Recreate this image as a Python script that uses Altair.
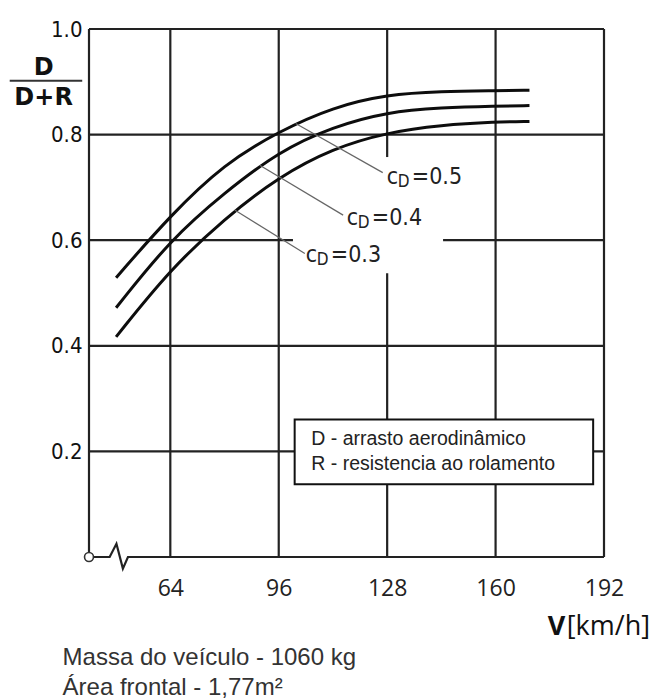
import altair as alt
import pandas as pd

# ---- data ----
speed_kmh = [48, 64, 80, 96, 112, 128, 144, 160, 170]
ratio_cd05 = [0.529, 0.647, 0.745, 0.806, 0.852, 0.876, 0.882, 0.883, 0.884]
ratio_cd04 = [0.472, 0.601, 0.690, 0.768, 0.815, 0.843, 0.851, 0.854, 0.855]
ratio_cd03 = [0.417, 0.545, 0.641, 0.720, 0.774, 0.804, 0.818, 0.824, 0.825]
cd_values = ["0.5", "0.4", "0.3"]

x_ticks = [64, 96, 128, 160, 192]
y_ticks = [0.2, 0.4, 0.6, 0.8, 1.0]

# gridline segments (value, start, end)
h_grid_y = [1.0, 0.8, 0.6, 0.6, 0.4, 0.2]
h_grid_x1 = [40, 40, 40, 144.5, 40, 40]
h_grid_x2 = [192, 192, 100.2, 192, 192, 192]
v_grid_x = [40, 64, 96, 128, 128, 160, 192]
v_grid_y1 = [0, 0, 0, 0, 0.7575, 0, 0]
v_grid_y2 = [1, 1, 1, 0.5376, 1, 1, 1]

# broken x axis near origin
axis_x = [40, 46.1, 48.1, 50.0, 51.5, 192]
axis_y = [0, 0, 0.025, -0.022, 0, 0]

# curve label annotations (leader start -> end, label anchor)
lead_x1 = [101.0, 90.4, 83.0]
lead_y1 = [0.821, 0.742, 0.657]
lead_x2 = [126.7, 115.0, 103.7]
lead_y2 = [0.728, 0.6475, 0.575]
lab_x = [127.9, 116.1, 104.0]
lab_y = [0.7195, 0.642, 0.5717]

legend_lines = ["D - arrasto aerodinâmico", "R - resistencia ao rolamento"]
legend_line_y = [0.2244, 0.177]
legend_box = dict(x=100.7, x2=188.8, y=0.2604, y2=0.1378)

footer_lines = ["Massa do veículo - 1060 kg", "Área frontal - 1,77m²"]
footer_y = [-0.192, -0.2488]

# ---- scales / axes ----
xs = alt.Scale(domain=[40, 192], nice=False, zero=False)
ys = alt.Scale(domain=[0, 1], nice=False, zero=False)
X_AX = alt.Axis(values=x_ticks, title=None, domain=False, ticks=False, grid=False,
                labelFont="Open Sans", labelFontSize=23, labelColor="#222",
                labelPadding=20, labelFlush=False)
Y_AX = alt.Axis(values=y_ticks, title=None, domain=False, ticks=False, grid=False,
                format=".1f", labelFont="DejaVu Sans Condensed", labelFontSize=22,
                labelColor="#111", labelPadding=7)


def X(f):
    return alt.X(f, type="quantitative", scale=xs, axis=X_AX)


def Y(f):
    return alt.Y(f, type="quantitative", scale=ys, axis=Y_AX)


GRID = "#222222"

hgrid = pd.DataFrame({"y": h_grid_y, "x1": h_grid_x1, "x2": h_grid_x2})
vgrid = pd.DataFrame({"x": v_grid_x, "y1": v_grid_y1, "y2": v_grid_y2})

curves = pd.DataFrame({
    "v": speed_kmh * 3,
    "r": ratio_cd05 + ratio_cd04 + ratio_cd03,
    "cd": ["0.5"] * len(speed_kmh) + ["0.4"] * len(speed_kmh) + ["0.3"] * len(speed_kmh),
})

axis_df = pd.DataFrame({"x": axis_x, "y": axis_y, "o": list(range(len(axis_x)))})
leaders = pd.DataFrame({"x1": lead_x1, "y1": lead_y1, "x2": lead_x2, "y2": lead_y2})
labels = pd.DataFrame({"x": lab_x, "y": lab_y, "t": ["=" + c for c in cd_values]})

l_hgrid = alt.Chart(hgrid).mark_rule(color=GRID, strokeWidth=2.2).encode(
    x=X("x1"), x2="x2", y=Y("y"))
l_vgrid = alt.Chart(vgrid).mark_rule(color=GRID, strokeWidth=2.2).encode(
    x=X("x"), y=Y("y1"), y2="y2")
l_axis = alt.Chart(axis_df).mark_line(color=GRID, strokeWidth=2.2).encode(
    x=X("x"), y=Y("y"), order="o")
l_origin = alt.Chart(pd.DataFrame({"x": [40], "y": [0]})).mark_point(
    shape="circle", size=80, filled=True, fill="white", stroke="#333",
    strokeWidth=1.6, opacity=1).encode(x=X("x"), y=Y("y"))

l_curves = alt.Chart(curves).mark_line(color="#0d0d0d", strokeWidth=3,
                                        interpolate="basis").encode(
    x=X("v"), y=Y("r"), detail="cd")

l_leaders = alt.Chart(leaders).mark_rule(color="#666", strokeWidth=1.2).encode(
    x=X("x1"), y=Y("y1"), x2="x2", y2="y2")

LBL_FONT = "DejaVu Sans Condensed"
l_c = alt.Chart(labels).mark_text(text="c", font=LBL_FONT, fontSize=23, align="left",
                                   baseline="middle", color="#222").encode(
    x=X("x"), y=Y("y"))
l_d = alt.Chart(labels).mark_text(text="D", font=LBL_FONT, fontSize=17, align="left",
                                   baseline="middle", dx=11, dy=5, color="#222").encode(
    x=X("x"), y=Y("y"))
l_eq = alt.Chart(labels).mark_text(font=LBL_FONT, fontSize=23, align="left",
                                    baseline="middle", dx=25, color="#222").encode(
    x=X("x"), y=Y("y"), text="t:N")

l_box = alt.Chart(pd.DataFrame([legend_box])).mark_rect(
    fill="white", stroke="#111", strokeWidth=2).encode(
    x=X("x"), x2="x2", y=Y("y"), y2="y2")
l_box_txt = alt.Chart(pd.DataFrame({"x": [105.6] * 2, "y": legend_line_y, "t": legend_lines})).mark_text(
    font="Liberation Sans", fontSize=19.5, align="left", baseline="middle", color="#222").encode(
    x=X("x"), y=Y("y"), text="t:N")

# y axis title as fraction
frac_df = pd.DataFrame({"x": [26.6, 26.6], "y": [0.926, 0.869], "t": ["D", "D+R"]})
l_frac = alt.Chart(frac_df).mark_text(font="DejaVu Sans", fontWeight="bold", fontSize=24,
                                      align="center", baseline="middle", color="#111").encode(
    x=X("x"), y=Y("y"), text="t:N")
l_bar = alt.Chart(pd.DataFrame({"x1": [16.6], "x2": [38.0], "y": [0.902]})).mark_rule(
    color="#333", strokeWidth=2).encode(x=X("x1"), x2="x2", y=Y("y"))

# x axis title
l_vb = alt.Chart(pd.DataFrame({"x": [175.4], "y": [-0.133]})).mark_text(
    text="V", font="Open Sans", fontWeight="bold", fontSize=27, align="left",
    baseline="middle", color="#111").encode(x=X("x"), y=Y("y"))
l_vu = alt.Chart(pd.DataFrame({"x": [181.0], "y": [-0.133]})).mark_text(
    text="[km/h]", font="Open Sans", fontSize=27, align="left",
    baseline="middle", color="#111").encode(x=X("x"), y=Y("y"))

l_footer = alt.Chart(pd.DataFrame({"x": [32.2] * 2, "y": footer_y, "t": footer_lines})).mark_text(
    font="Liberation Sans", fontSize=24, align="left", baseline="middle", color="#333").encode(
    x=X("x"), y=Y("y"), text="t:N")

chart = alt.layer(
    l_hgrid, l_vgrid, l_axis, l_curves, l_leaders, l_box, l_box_txt, l_origin,
    l_c, l_d, l_eq, l_frac, l_bar, l_vb, l_vu, l_footer
).properties(
    width=515, height=528,
    padding={"left": 81, "top": 21, "right": 47, "bottom": 145},
    autosize=alt.AutoSizeParams(type="none"),
    background="white",
).configure_view(stroke=None)

chart.save("out.html", embed_options={"renderer": "svg", "actions": False})
